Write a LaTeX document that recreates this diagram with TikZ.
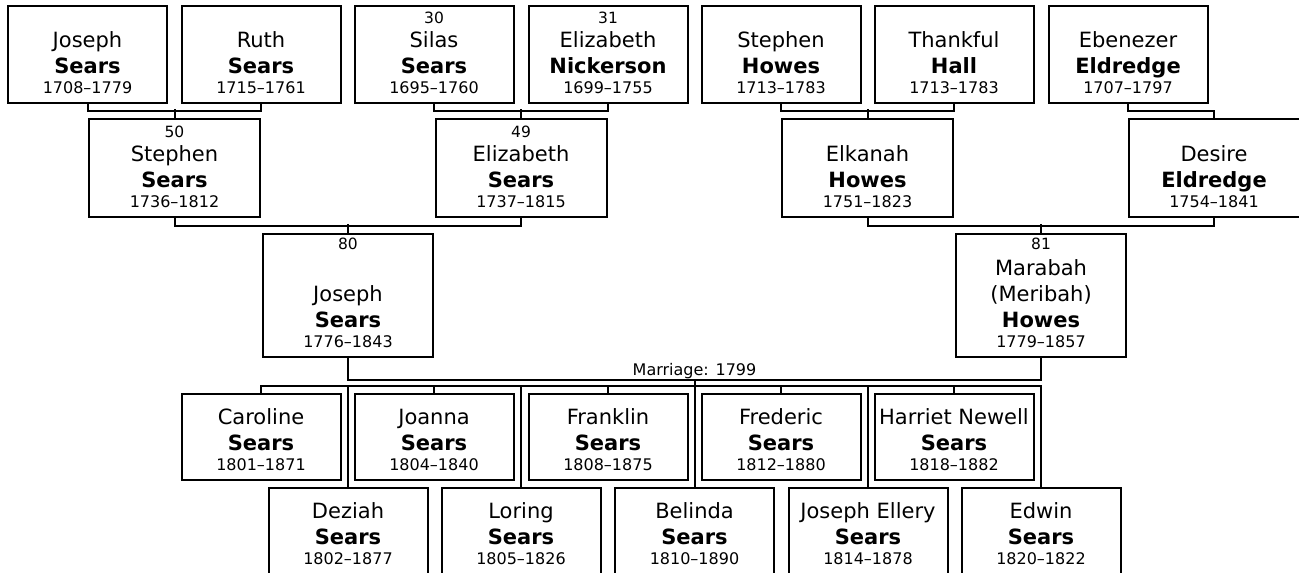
\documentclass[tikz,border=0pt]{standalone}
\usepackage{fontspec}
\setmainfont{DejaVu Sans}
\usetikzlibrary{positioning}

% small print for the Ahnentafel numbers and the life dates
\newcommand{\idno}[1]{{\fontsize{15.5}{18}\selectfont #1}}
\newcommand{\dates}[1]{{\fontsize{16}{19}\selectfont #1}}
% one person: the box, and its text sitting on the bottom edge
\newcommand{\person}[4]{%
  \node[#1] (#2) at (#3) {};
  \node[ptext, above=10pt of #2.south] (#2-txt) {#4};}

\begin{document}
\begin{tikzpicture}[
    x=1pt, y=-1pt,
    pbox/.style={draw, line width=2pt, inner sep=0pt},
    g1/.style={pbox, minimum width=159pt, minimum height=97pt},
    g2/.style={pbox, minimum width=171pt, minimum height=98pt},
    g3/.style={pbox, minimum width=170pt, minimum height=123pt},
    kid/.style={pbox, minimum width=159pt, minimum height=86pt},
    ptext/.style={align=center, inner sep=0pt,
                  font=\fontsize{21}{26}\selectfont},
    link/.style={line width=2pt},
    wedtext/.style={font=\fontsize{16}{19}\selectfont, inner sep=0pt},
  ]
  \useasboundingbox (0,0) rectangle (1299,573);
  \clip (0,0) rectangle (1299,573);

  % great-grandparents
  \person{g1}{jos1}{87.5,54.5}{Joseph\\ \textbf{Sears}\\[-6pt] \dates{1708--1779}}
  \person{g1}{ruth}{261,54.5}{Ruth\\ \textbf{Sears}\\[-6pt] \dates{1715--1761}}
  \person{g1}{silas}{434,54.5}{\idno{30}\\[-2pt] Silas\\ \textbf{Sears}\\[-6pt] \dates{1695--1760}}
  \person{g1}{elizN}{608,54.5}{\idno{31}\\[-2pt] Elizabeth\\ \textbf{Nickerson}\\[-6pt] \dates{1699--1755}}
  \person{g1}{stepH}{781,54.5}{Stephen\\ \textbf{Howes}\\[-6pt] \dates{1713--1783}}
  \person{g1}{thank}{954,54.5}{Thankful\\ \textbf{Hall}\\[-6pt] \dates{1713--1783}}
  \person{g1}{eben}{1128,54.5}{Ebenezer\\ \textbf{Eldredge}\\[-6pt] \dates{1707--1797}}
  % grandparents
  \person{g2}{stepS}{174.5,168}{\idno{50}\\[-2pt] Stephen\\ \textbf{Sears}\\[-6pt] \dates{1736--1812}}
  \person{g2}{elizS}{521,168}{\idno{49}\\[-2pt] Elizabeth\\ \textbf{Sears}\\[-6pt] \dates{1737--1815}}
  \person{g2}{elk}{867.5,168}{Elkanah\\ \textbf{Howes}\\[-6pt] \dates{1751--1823}}
  \person{g2}{desire}{1214,168}{Desire\\ \textbf{Eldredge}\\[-6pt] \dates{1754--1841}}
  % parents
  \person{g3}{jos80}{348,295.5}{\idno{80}\\ \\ Joseph\\ \textbf{Sears}\\[-6pt] \dates{1776--1843}}
  \person{g3}{mar}{1041,295.5}{\idno{81}\\ Marabah\\ (Meribah)\\ \textbf{Howes}\\[-6pt] \dates{1779--1857}}
  % children, two staggered rows
  \person{kid}{caro}{261,437}{Caroline\\ \textbf{Sears}\\[-6pt] \dates{1801--1871}}
  \person{kid}{joanna}{434,437}{Joanna\\ \textbf{Sears}\\[-6pt] \dates{1804--1840}}
  \person{kid}{frank}{608,437}{Franklin\\ \textbf{Sears}\\[-6pt] \dates{1808--1875}}
  \person{kid}{fred}{781,437}{Frederic\\ \textbf{Sears}\\[-6pt] \dates{1812--1880}}
  \person{kid}{harriet}{954,437}{Harriet Newell\\ \textbf{Sears}\\[-6pt] \dates{1818--1882}}
  \person{kid}{deziah}{348,531}{Deziah\\ \textbf{Sears}\\[-6pt] \dates{1802--1877}}
  \person{kid}{loring}{521,531}{Loring\\ \textbf{Sears}\\[-6pt] \dates{1805--1826}}
  \person{kid}{belinda}{694.5,531}{Belinda\\ \textbf{Sears}\\[-6pt] \dates{1810--1890}}
  \person{kid}{josE}{868,531}{Joseph Ellery\\ \textbf{Sears}\\[-6pt] \dates{1814--1878}}
  \person{kid}{edwin}{1041,531}{Edwin\\ \textbf{Sears}\\[-6pt] \dates{1820--1822}}

  % couples down to their child
  \draw[link] (jos1.south) -- ++(0,-7pt) -| (ruth.south);
  \draw[link] (stepS.north) -- ++(0,9pt);
  \draw[link] (silas.south) -- ++(0,-7pt) -| (elizN.south);
  \draw[link] (elizS.north) -- ++(0,9pt);
  \draw[link] (stepH.south) -- ++(0,-7pt) -| (thank.south);
  \draw[link] (elk.north) -- ++(0,9pt);
  \draw[link] (eben.south) -- ++(0,-7pt) -| (desire.north);
  \draw[link] (stepS.south) -- ++(0,-8pt) -| (elizS.south);
  \draw[link] (jos80.north) -- ++(0,9pt);
  \draw[link] (elk.south) -- ++(0,-8pt) -| (desire.south);
  \draw[link] (mar.north) -- ++(0,9pt);

  % marriage and children
  \draw[link] (jos80.south) -- ++(0,-22pt)
    -| node[pos=0.25, above, wedtext] (wedlbl) {Marriage: 1799}
       coordinate[pos=0.25] (wed) (mar.south);
  \draw[link] (caro.north) -- ++(0,7pt) coordinate (kidbar) -| (edwin.north);
  \draw[link] (wed) -- (belinda.north);
  \draw[link] (joanna.north) -- (joanna.north |- kidbar);
  \draw[link] (frank.north) -- (frank.north |- kidbar);
  \draw[link] (fred.north) -- (fred.north |- kidbar);
  \draw[link] (harriet.north) -- (harriet.north |- kidbar);
  \draw[link] (deziah.north) -- (deziah.north |- kidbar);
  \draw[link] (loring.north) -- (loring.north |- kidbar);
  \draw[link] (josE.north) -- (josE.north |- kidbar);
\end{tikzpicture}
\end{document}
